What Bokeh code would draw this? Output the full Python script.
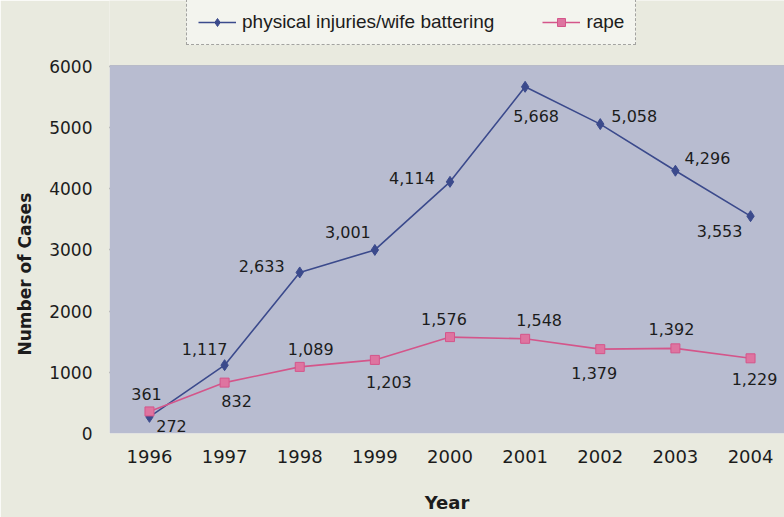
from bokeh.plotting import figure
from bokeh.models import (ColumnDataSource, Legend, LegendItem, FixedTicker, Range1d,
                          BoxAnnotation, Title)
from bokeh.core.properties import value
from bokeh.embed import file_html
from bokeh.resources import INLINE

years = [1996, 1997, 1998, 1999, 2000, 2001, 2002, 2003, 2004]
physical = [272, 1117, 2633, 3001, 4114, 5668, 5058, 4296, 3553]
rape = [361, 832, 1089, 1203, 1576, 1548, 1379, 1392, 1229]
y_ticks = [0, 1000, 2000, 3000, 4000, 5000, 6000]

# label placement (pixels, relative to marker)
phys_dx = [22, -20, -38, -27, -38, 11, 34, 32, -31]
phys_dy = [9, -16, -6, -18, -4, 29, -8, -13, 15]
rape_dx = [-3, 12, 11, 14, -6, 14, -6, -4, 4]
rape_dy = [-17, 18, -18, 22, -18, -19, 24, -19, 21]

BLUE = "#3b4a8c"
PINK = "#d4558a"
TEXT = "#1c1c1c"
FONT = "DejaVu Sans"
OUTER = "#e9eadf"
PLOT_BG = "#b8bcd0"

p = figure(width=784, height=517, output_backend="svg", toolbar_location=None,
           x_range=Range1d(1995.468, 2004.452), y_range=Range1d(0, 7079),
           min_border_left=108, min_border_right=0, min_border_top=0, min_border_bottom=84)
p.background_fill_color = OUTER
p.border_fill_color = OUTER
p.outline_line_color = None

# plot area (below the legend strip)
p.add_layout(BoxAnnotation(bottom=0, top=6020, fill_color=PLOT_BG, fill_alpha=1.0,
                           line_color=None, level="underlay"))

p.xgrid.grid_line_color = None
p.ygrid.grid_line_color = "#2a2a2a"
p.ygrid.grid_line_width = 1.5
p.ygrid.ticker = FixedTicker(ticks=y_ticks)

p.yaxis.ticker = FixedTicker(ticks=y_ticks)
p.xaxis.ticker = FixedTicker(ticks=years)
for ax in (p.xaxis, p.yaxis):
    ax.axis_line_color = None
    ax.major_tick_line_color = None
    ax.minor_tick_line_color = None
    ax.major_label_text_font = FONT
    ax.major_label_text_color = TEXT
    ax.axis_label_text_font = FONT
    ax.axis_label_text_font_style = "bold"
    ax.axis_label_text_color = TEXT
p.yaxis.major_label_text_font_size = "17px"
p.xaxis.major_label_text_font_size = "18px"
p.yaxis.major_label_standoff = 11
p.xaxis.major_label_standoff = 10
p.xaxis.axis_label = "Year"
p.xaxis.axis_label_text_font_size = "18px"
p.xaxis.axis_label_standoff = 26

ytitle = Title(text="Number of Cases", align="left", offset=78, text_font=FONT,
               text_font_size="17px", text_font_style="bold", text_color=TEXT,
               standoff=24)
p.add_layout(ytitle, "left")

src_p = ColumnDataSource(dict(x=years, y=physical, lab=[f"{v:,}" for v in physical], dx=phys_dx, dy=phys_dy))
src_r = ColumnDataSource(dict(x=years, y=rape, lab=[f"{v:,}" for v in rape], dx=rape_dx, dy=rape_dy))

lp = p.line("x", "y", source=src_p, line_color=BLUE, line_width=1.6)
mp = p.scatter("x", "y", source=src_p, marker="diamond", size=11, fill_color=BLUE, line_color=BLUE)
lr = p.line("x", "y", source=src_r, line_color=PINK, line_width=1.6)
mr = p.scatter("x", "y", source=src_r, marker="square", size=9, fill_color="#de74a0", line_color=PINK)

for src in (src_p, src_r):
    p.text("x", "y", text="lab", source=src, x_offset="dx", y_offset="dy",
           text_align="center", text_baseline="middle", text_font=value(FONT),
           text_font_size="16px", text_color=TEXT)

legend = Legend(items=[LegendItem(label="physical injuries/wife battering", renderers=[lp, mp]),
                       LegendItem(label="rape", renderers=[lr, mr])],
                orientation="horizontal", location=(77, 388))
legend.label_text_font = "Liberation Sans"
legend.label_text_font_size = "19px"
legend.label_text_color = TEXT
legend.glyph_width = 38
legend.label_standoff = 6
legend.spacing = 48
legend.margin = 0
legend.border_line_color = "#555555"
legend.border_line_width = 1
legend.border_line_dash = "3 1"
legend.background_fill_color = "#f3f4ee"
legend.background_fill_alpha = 1.0
legend.padding = 11
p.add_layout(legend, "center")

open("out.html", "w").write(file_html(p, INLINE))
